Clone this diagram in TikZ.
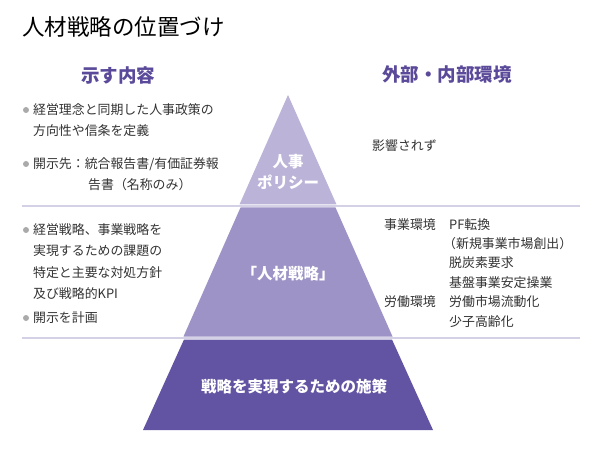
\documentclass[tikz,border=0pt]{standalone}
\usepackage{fontspec}
\setmainfont{Noto Sans CJK JP}
\definecolor{tA}{HTML}{BBB3D8}
\definecolor{tB}{HTML}{9D93C6}
\definecolor{tC}{HTML}{6354A3}
\definecolor{hd}{HTML}{5B4A9A}
\definecolor{ln}{HTML}{D4D0E6}
\definecolor{tx}{HTML}{333333}
\definecolor{bl}{HTML}{AAAAAA}
\begin{document}
\begin{tikzpicture}[x=1pt,y=-1pt,
  txt/.style={anchor=west,inner sep=0,font=\fontsize{12.9}{14}\selectfont,text=tx},
  hdr/.style={inner sep=0,font=\fontsize{18.5}{20}\selectfont\bfseries,text=hd},
  tier/.style={inner sep=0,font=\fontsize{15.5}{21}\selectfont\bfseries,text=white,align=center},
  bul/.style={circle,fill=bl,inner sep=0,minimum size=6pt}]
\useasboundingbox (0,0) rectangle (600,449);
\fill[white] (0,0) rectangle (600,449);
\node[anchor=west,inner sep=0,font=\fontsize{22.5}{24}\selectfont,text=black] (title) at (22,27) {人材戦略の位置づけ};
\node[hdr] (h1) at (118,75) {示す内容};
\node[hdr] (h2) at (447,75) {外部・内部環境};
\draw[ln,line width=1.2pt] (22,206) -- (580,206);
\draw[ln,line width=1.2pt] (22,338) -- (580,338);
\fill[tA] (288,95) -- (336.5,204.5) -- (239.5,204.5) -- cycle;
\fill[tB] (240.5,207.5) -- (335.5,207.5) -- (392.5,336.5) -- (183.5,336.5) -- cycle;
\fill[tC] (184,339.5) -- (392,339.5) -- (433,430) -- (143,430) -- cycle;
\node[tier] (t1) at (288,172) {人事\\ポリシー};
\node[tier] (t2) at (288,274) {「人材戦略」};
\node[tier] (t3) at (294,387) {戦略を実現するための施策};
\node[bul] (b1) at (26,110) {};
\node[txt] (l1) at (33,110) {経営理念と同期した人事政策の};
\node[txt] (l2) at (33,131) {方向性や信条を定義};
\node[bul] (b2) at (26,164) {};
\node[txt] (l3) at (33,164) {開示先：統合報告書/有価証券報};
\node[txt] (l4) at (88,185) {告書（名称のみ）};
\node[bul] (b3) at (26,230) {};
\node[txt] (m1) at (33,230) {経営戦略、事業戦略を};
\node[txt] (m2) at (33,251) {実現するための課題の};
\node[txt] (m3) at (33,273) {特定と主要な対処方針};
\node[txt] (m4) at (33,294) {及び戦略的KPI};
\node[bul] (b4) at (26,318) {};
\node[txt] (m5) at (33,318) {開示を計画};
\node[txt] (r0) at (372,146) {影響されず};
\node[txt] (r1) at (384,225) {事業環境};
\node[txt] (r2) at (449,225) {PF転換};
\node[txt] (r3) at (443,244) {（新規事業市場創出）};
\node[txt] (r4) at (449,263) {脱炭素要求};
\node[txt] (r5) at (449,283) {基盤事業安定操業};
\node[txt] (r6) at (384,302) {労働環境};
\node[txt] (r7) at (449,302) {労働市場流動化};
\node[txt] (r8) at (449,322) {少子高齢化};
\end{tikzpicture}
\end{document}
